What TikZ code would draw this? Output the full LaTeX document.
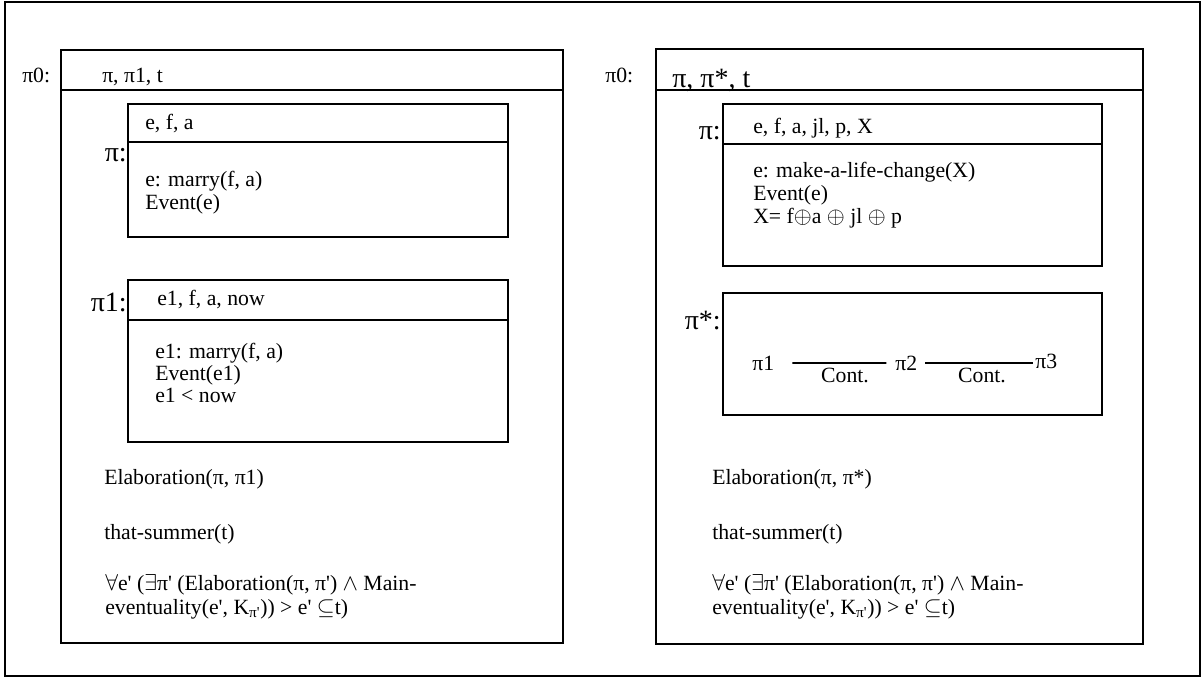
\documentclass[tikz,border=0pt]{standalone}
\usepackage{fontspec}
\newfontfamily\tnr{Liberation Serif}
\begin{document}
\begin{tikzpicture}[x=0.75pt,y=-0.75pt,
  txt/.style={anchor=base west,inner sep=0pt,font=\tnr\fontsize{16.3}{20}\selectfont},
  big/.style={anchor=base east,inner sep=0pt,font=\tnr\fontsize{21}{25}\selectfont},
  frame/.style={draw,line width=1.1pt},
  boxline/.style={draw,line width=1.4pt},
  cont/.style={draw,line width=1.3pt}]
\useasboundingbox (0,0) rectangle (1202,678);
\fill[white] (0,0) rectangle (1202,678);
\draw[frame] (5,2) rectangle (1200,676);

% ---------- left DRS ----------
\draw[boxline] (61,50) rectangle (563,643);
\draw[boxline] (61,90) -- (563,90);
\node[txt] (l0) at (22,82) {π0:};
\node[txt] (lhead) at (102,82) {π, π1, t};

\draw[boxline] (128,104) rectangle (508,237);
\draw[boxline] (128,142) -- (508,142);
\node[big] (lpi) at (127,161) {π:};
\node[txt] (lpih) at (145,129) {e, f, a};
\node[txt] (lpi1) at (145,186) {e: marry(f, a)};
\node[txt] (lpi2) at (145,209) {Event(e)};

\draw[boxline] (128,280) rectangle (508,442);
\draw[boxline] (128,320) -- (508,320);
\node[big] (lpione) at (127,311) {π1:};
\node[txt] (lp1h) at (157,305) {e1, f, a, now};
\node[txt] (lp11) at (155,358) {e1: marry(f, a)};
\node[txt] (lp12) at (155,380) {Event(e1)};
\node[txt] (lp13) at (155,402) {e1 < now};

\node[txt] (lc1) at (104,484) {Elaboration(π, π1)};
\node[txt] (lc2) at (104,539) {that-summer(t)};
\node[txt] (lc3) at (105,590) {$\forall$e' ($\exists$π' (Elaboration(π, π') $\wedge$ Main-};
\node[txt] (lc4) at (105,614) {eventuality(e', K\textsubscript{π'})) > e' $\subseteq$t)};

% ---------- right DRS ----------
\draw[boxline] (656,49) rectangle (1143,644);
\draw[boxline] (656,90) -- (1143,90);
\node[txt] (r0) at (605,82) {π0:};
\node[txt,font=\tnr\fontsize{21}{25}\selectfont] (rhead) at (672,87) {π, π*, t};

\draw[boxline] (723,104) rectangle (1102,266);
\draw[boxline] (723,144) -- (1102,144);
\node[big] (rpi) at (721,139) {π:};
\node[txt] (rpih) at (753,133) {e, f, a, jl, p, X};
\node[txt] (rpi1) at (753,177) {e: make-a-life-change(X)};
\node[txt] (rpi2) at (753,200) {Event(e)};
\node[txt] (rpi3) at (753,223) {X= f$\oplus$a $\oplus$ jl $\oplus$ p};

\draw[boxline] (723,293) rectangle (1102,415);
\node[big] (rstar) at (721,329) {π*:};
\node[txt] (p1) at (752,370) {π1};
\node[txt] (p2) at (895,370) {π2};
\node[txt] (p3) at (1035,368) {π3};
\draw[cont] ([xshift=13.5pt]p1.east) -- ([xshift=-6.5pt]p2.west);
\draw[cont] ([xshift=6pt]p2.east) -- ([xshift=-1.5pt]p2.east -| p3.west);
\node[txt,anchor=base] (k1) at (845,382) {Cont.};
\node[txt,anchor=base] (k2) at (982,382) {Cont.};

\node[txt] (rc1) at (712,484) {Elaboration(π, π*)};
\node[txt] (rc2) at (712,539) {that-summer(t)};
\node[txt] (rc3) at (712,590) {$\forall$e' ($\exists$π' (Elaboration(π, π') $\wedge$ Main-};
\node[txt] (rc4) at (712,614) {eventuality(e', K\textsubscript{π'})) > e' $\subseteq$t)};
\end{tikzpicture}
\end{document}
